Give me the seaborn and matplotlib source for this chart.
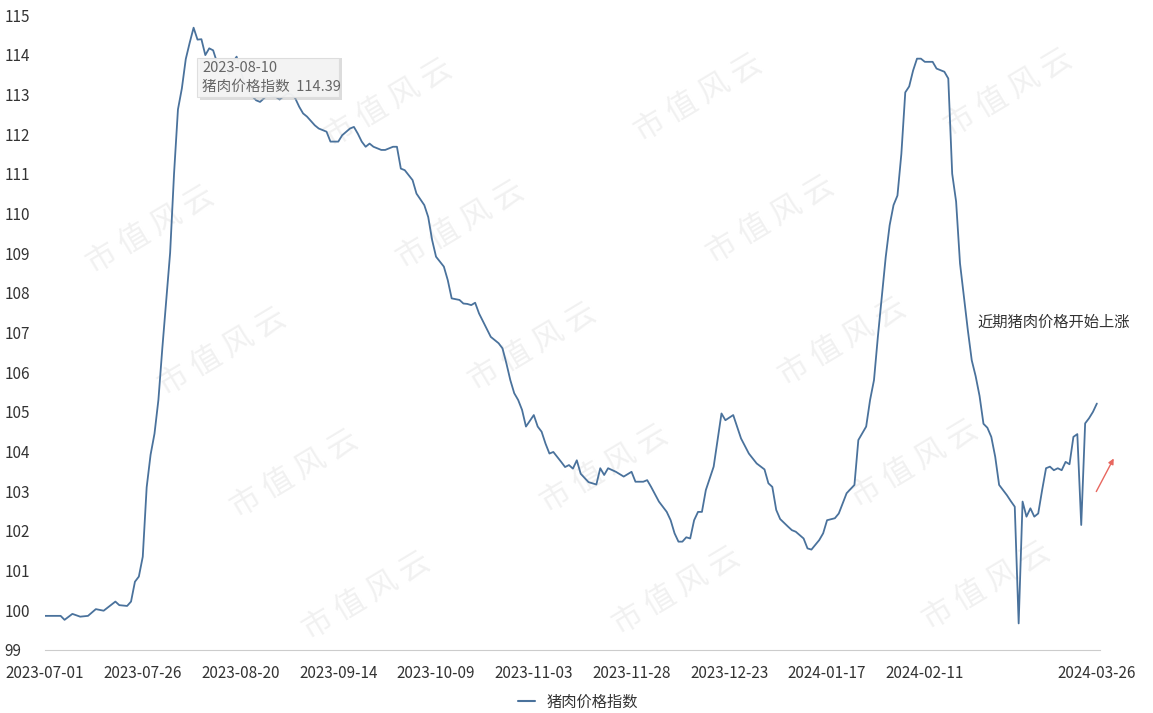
import pandas as pd
import matplotlib
matplotlib.use("Agg")
import matplotlib.pyplot as plt
import matplotlib.dates as mdates
from matplotlib.patches import Rectangle
from matplotlib.lines import Line2D
import seaborn as sns

# ── data (day offsets from 2023-07-01) ──────────────────────────────────────
START = "2023-07-01"
day_offsets = [
    0, 4, 5, 7, 9, 11, 13, 15, 18, 19, 21, 22, 23, 24, 25, 26, 27, 28, 29, 30,
    31, 32, 33, 34, 35, 36, 37, 38, 39, 40, 41, 42, 43, 44, 45, 46, 47, 48, 49, 50,
    51, 52, 53, 54, 55, 56, 57, 58, 59, 60, 61, 62, 63, 64, 65, 66, 67, 69, 70, 72,
    73, 75, 76, 78, 79, 80, 81, 82, 83, 84, 86, 87, 89, 90, 91, 92, 94, 95, 97, 98,
    99, 100, 102, 103, 104, 106, 107, 108, 109, 110, 111, 114, 116, 117, 118, 119, 120, 121, 122, 123,
    125, 126, 127, 128, 129, 130, 132, 133, 134, 135, 136, 137, 139, 141, 142, 143, 144, 146, 148, 150,
    151, 153, 154, 155, 157, 159, 160, 161, 162, 163, 164, 165, 166, 167, 168, 169, 171, 173, 174, 176,
    178, 180, 182, 184, 185, 186, 187, 188, 190, 191, 192, 194, 195, 196, 198, 199, 200, 202, 203, 205,
    207, 208, 210, 211, 212, 213, 214, 215, 216, 217, 218, 219, 220, 221, 222, 223, 224, 225, 227, 228,
    230, 231, 232, 233, 234, 235, 236, 237, 238, 239, 240, 241, 242, 243, 244, 245, 246, 247, 248, 249,
    250, 251, 252, 253, 254, 255, 256, 257, 258, 259, 260, 261, 262, 263, 264, 265, 266, 267, 268, 269,
]
index_values = [
    99.86, 99.86, 99.76, 99.91, 99.84, 99.86, 100.03, 99.99, 100.22, 100.13,
    100.11, 100.22, 100.72, 100.85, 101.35, 103.10, 103.92, 104.45, 105.30, 106.60,
    107.80, 109.01, 111.00, 112.62, 113.15, 113.89, 114.30, 114.68, 114.38, 114.39,
    113.99, 114.16, 114.11, 113.80, 113.55, 113.75, 113.50, 113.80, 113.95, 113.60,
    113.30, 113.10, 112.95, 112.85, 112.81, 112.90, 113.00, 112.95, 112.94, 112.87,
    112.95, 113.02, 113.00, 112.90, 112.69, 112.52, 112.44, 112.22, 112.14, 112.06,
    111.81, 111.81, 111.97, 112.14, 112.18, 112.01, 111.81, 111.68, 111.76, 111.68,
    111.60, 111.60, 111.68, 111.68, 111.13, 111.09, 110.84, 110.50, 110.21, 109.91,
    109.33, 108.91, 108.66, 108.32, 107.86, 107.82, 107.73, 107.72, 107.69, 107.75,
    107.48, 106.89, 106.73, 106.60, 106.22, 105.80, 105.47, 105.30, 105.05, 104.63,
    104.92, 104.63, 104.50, 104.20, 103.95, 103.99, 103.74, 103.61, 103.66, 103.57,
    103.78, 103.44, 103.23, 103.17, 103.58, 103.41, 103.58, 103.49, 103.37, 103.49,
    103.24, 103.24, 103.28, 103.11, 102.74, 102.48, 102.27, 101.94, 101.73, 101.73,
    101.84, 101.81, 102.27, 102.48, 102.48, 103.03, 103.62, 104.96, 104.79, 104.92,
    104.33, 103.95, 103.70, 103.55, 103.20, 103.11, 102.53, 102.30, 102.11, 102.02,
    101.98, 101.81, 101.56, 101.53, 101.77, 101.94, 102.27, 102.32, 102.44, 102.95,
    103.16, 104.29, 104.63, 105.30, 105.80, 106.90, 107.90, 108.90, 109.70, 110.21,
    110.45, 111.50, 113.05, 113.20, 113.60, 113.90, 113.90, 113.82, 113.82, 113.65,
    113.57, 113.40, 111.00, 110.30, 108.74, 107.90, 107.06, 106.30, 105.90, 105.40,
    104.70, 104.60, 104.37, 103.87, 103.16, 103.03, 102.90, 102.75, 102.61, 99.67,
    102.74, 102.36, 102.57, 102.36, 102.44, 103.03, 103.58, 103.62, 103.53, 103.58,
    103.53, 103.74, 103.68, 104.37, 104.44, 102.15, 104.71, 104.84, 105.00, 105.21,
]
tick_offsets = [0, 25, 50, 75, 100, 125, 150, 175, 200, 225, 250, 269]
tick_labels = ["2023-07-01", "2023-07-26", "2023-08-20", "2023-09-14", "2023-10-09",
               "2023-11-03", "2023-11-28", "2023-12-23", "2024-01-17", "2024-02-11",
               "", "2024-03-26"]
y_ticks = list(range(99, 116))
SERIES = "猪肉价格指数"
TIP_DATE, TIP_VALUE = "2023-08-10", "114.39"
NOTE = "近期猪肉价格开始上涨"
WATERMARK = "市 值 风 云"

# ── layout helpers (reference pixel -> figure fraction) ─────────────────────
W, H = 1153, 713
LINE_COLOR = "#4a729c"
TEXT_COLOR = "#333333"


def fx(x):
    return x / W


def fy(y):
    return 1 - y / H


t0 = pd.Timestamp(START)
df = pd.DataFrame({
    "date": t0 + pd.to_timedelta(day_offsets, unit="D"),
    SERIES: index_values,
})

sns.set_style("white")
plt.rcParams["font.family"] = ["Noto Sans CJK SC", "DejaVu Sans"]

fig = plt.figure(figsize=(W / 100, H / 100), dpi=100)
ax = fig.add_axes([fx(45), fy(650), fx(1100) - fx(45), fy(15) - fy(650)])
ax.set_facecolor("none")

# faint watermark grid behind the plot (only the ones that fit inside)
for i in range(-1, 5):
    for j in range(-2, 6):
        cx = 150 + 310 * i + 72 * j
        cy = 230 - 5 * i + 122 * j
        if 90 < cx < W - 90 and 60 < cy < H - 60:
            fig.text(fx(cx), fy(cy), WATERMARK, rotation=31, ha="center", va="center",
                     fontsize=22, color="#f1f1f1", zorder=-1)

sns.lineplot(data=df, x="date", y=SERIES, ax=ax, color=LINE_COLOR,
             linewidth=1.3, legend=False)

ax.set_xlim(mdates.date2num(t0), mdates.date2num(t0) + 269.8)
ax.set_ylim(99, 115)
ax.set_xticks(mdates.date2num(t0 + pd.to_timedelta(tick_offsets, unit="D")))
ax.set_xticklabels(tick_labels)
ax.set_yticks(y_ticks)
ax.set_yticklabels([str(v) for v in y_ticks])
ax.set_xlabel("")
ax.set_ylabel("")

for side in ["top", "right", "left"]:
    ax.spines[side].set_visible(False)
ax.spines["bottom"].set_color("#cccccc")
ax.tick_params(axis="x", length=5, color="#cccccc", labelsize=11, labelcolor=TEXT_COLOR, pad=6)
ax.tick_params(axis="y", length=0, labelsize=11, labelcolor=TEXT_COLOR, pad=29)
for lab in ax.get_yticklabels():
    lab.set_horizontalalignment("left")

# tooltip box
fig.patches.append(Rectangle((fx(200), fy(100)), fx(342) - fx(200), fy(58) - fy(100),
                             transform=fig.transFigure, facecolor="#bbbbbb", alpha=0.5,
                             edgecolor="none", zorder=4))
fig.patches.append(Rectangle((fx(197), fy(97)), fx(339) - fx(197), fy(58) - fy(97),
                             transform=fig.transFigure, facecolor="#f6f6f6", alpha=0.92,
                             edgecolor="#dddddd", linewidth=0.8, zorder=5))
fig.text(fx(202), fy(68), TIP_DATE, ha="left", va="center", fontsize=10.5,
         color="#666666", zorder=6)
fig.text(fx(202), fy(87), f"{SERIES}  {TIP_VALUE}", ha="left", va="center", fontsize=10.5,
         color="#666666", zorder=6)

# note and red arrow
fig.text(fx(977), fy(322), NOTE, ha="left", va="center", fontsize=11, color=TEXT_COLOR)
ax.annotate("", xy=(fx(1115), fy(456)), xytext=(fx(1095), fy(494)),
            xycoords="figure fraction", textcoords="figure fraction",
            arrowprops=dict(arrowstyle="-|>", color="#e8675f", lw=1.0, mutation_scale=8))

# legend at the bottom
handle = Line2D([], [], color=LINE_COLOR, linewidth=1.5)
fig.legend([handle], [SERIES], loc="center", bbox_to_anchor=(fx(578), fy(702)),
           frameon=False, handlelength=1.1, fontsize=11, labelcolor=TEXT_COLOR)

fig.savefig("out.png", dpi=100)
